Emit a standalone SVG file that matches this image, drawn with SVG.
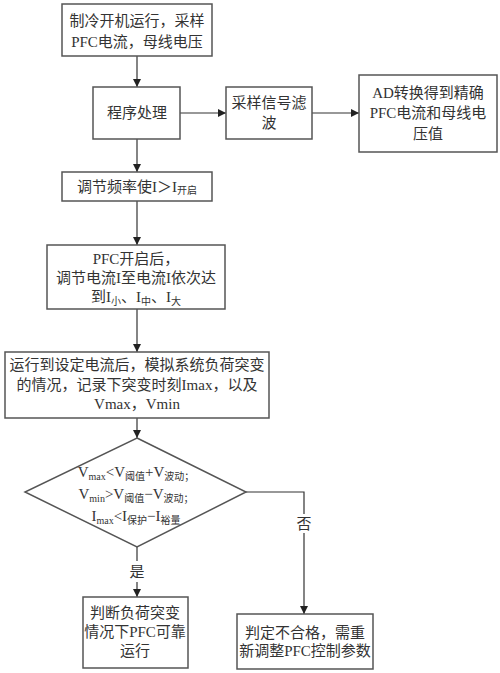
<svg xmlns="http://www.w3.org/2000/svg" width="500" height="673" viewBox="0 0 500 673">
<defs>
<marker id="arr" viewBox="0 0 10 10" refX="10" refY="5" markerWidth="8" markerHeight="8" markerUnits="userSpaceOnUse" orient="auto">
<path d="M0,0 L10,5 L0,10 z" fill="#222"/>
</marker>
<style>
.box{fill:#fff;stroke:#555;stroke-width:1.5}
.ln{fill:none;stroke:#333;stroke-width:1.2}
text{font-family:"Liberation Serif","Noto Sans CJK SC",serif;font-size:15px;fill:#333;text-anchor:middle}
.sub{font-size:10px}
</style>
</defs>
<rect width="500" height="673" fill="#fff"/>
<g id="connectors">
<path class="ln" d="M137,56 V87" marker-end="url(#arr)"/>
<path class="ln" d="M180,113 H226" marker-end="url(#arr)"/>
<path class="ln" d="M312,113 H359" marker-end="url(#arr)"/>
<path class="ln" d="M137,139 V172" marker-end="url(#arr)"/>
<path class="ln" d="M137,201 V245" marker-end="url(#arr)"/>
<path class="ln" d="M137,309 V352" marker-end="url(#arr)"/>
<path class="ln" d="M137,418 V438" marker-end="url(#arr)"/>
<path class="ln" d="M137,547 V561"/>
<path class="ln" d="M137,582 V597" marker-end="url(#arr)"/>
<path class="ln" d="M246,492 H304 V514"/>
<path class="ln" d="M304,533 V614" marker-end="url(#arr)"/>
<text x="137" y="577">是</text>
<text x="304" y="529">否</text>
</g>
<g id="n1">
<rect class="box" x="62" y="4" width="150" height="52"/>
<text x="137" y="26">制冷开机运行，采样</text>
<text x="137" y="47">PFC电流，母线电压</text>
</g>
<g id="n2">
<rect class="box" x="93" y="87" width="87" height="52"/>
<text x="137" y="118">程序处理</text>
</g>
<g id="n3">
<rect class="box" x="226" y="87" width="86" height="52"/>
<text x="269" y="108">采样信号滤</text>
<text x="269" y="128">波</text>
</g>
<g id="n4">
<rect class="box" x="359" y="75" width="138" height="77"/>
<text x="428" y="98">AD转换得到精确</text>
<text x="428" y="118">PFC电流和母线电</text>
<text x="428" y="139">压值</text>
</g>
<g id="n5">
<rect class="box" x="62" y="172" width="150" height="29"/>
<text x="137" y="192">调节频率使I＞I<tspan class="sub" dy="2">开启</tspan></text>
</g>
<g id="n6">
<rect class="box" x="47" y="245" width="178" height="64"/>
<text x="136" y="264">PFC开启后，</text>
<text x="136" y="283">调节电流I至电流I依次达</text>
<text x="136" y="302">到I<tspan class="sub" dy="3">小</tspan><tspan dy="-3">、I</tspan><tspan class="sub" dy="3">中</tspan><tspan dy="-3">、I</tspan><tspan class="sub" dy="3">大</tspan></text>
</g>
<g id="n7">
<rect class="box" x="5" y="352" width="264" height="66"/>
<text x="137" y="370">运行到设定电流后，模拟系统负荷突变</text>
<text x="137" y="390">的情况，记录下突变时刻Imax，以及</text>
<text x="137" y="409">Vmax，Vmin</text>
</g>
<g id="n8">
<polygon class="box" points="137,438 246,492 137,547 25,492"/>
<text x="136" y="477">V<tspan class="sub" dy="3">max</tspan><tspan dy="-3">&lt;V</tspan><tspan class="sub" dy="3">阈值</tspan><tspan dy="-3">+V</tspan><tspan class="sub" dy="3">波动；</tspan></text>
<text x="136" y="499">V<tspan class="sub" dy="3">min</tspan><tspan dy="-3">&gt;V</tspan><tspan class="sub" dy="3">阈值</tspan><tspan dy="-3">−V</tspan><tspan class="sub" dy="3">波动；</tspan></text>
<text x="136" y="521">I<tspan class="sub" dy="3">max</tspan><tspan dy="-3">&lt;I</tspan><tspan class="sub" dy="3">保护</tspan><tspan dy="-3">−I</tspan><tspan class="sub" dy="3">裕量</tspan></text>
</g>
<g id="n9">
<rect class="box" x="83" y="597" width="105" height="71"/>
<text x="135" y="618">判断负荷突变</text>
<text x="135" y="637">情况下PFC可靠</text>
<text x="135" y="656">运行</text>
</g>
<g id="n10">
<rect class="box" x="237" y="614" width="136" height="55"/>
<text x="305" y="638">判定不合格，需重</text>
<text x="305" y="656">新调整PFC控制参数</text>
</g>
</svg>
